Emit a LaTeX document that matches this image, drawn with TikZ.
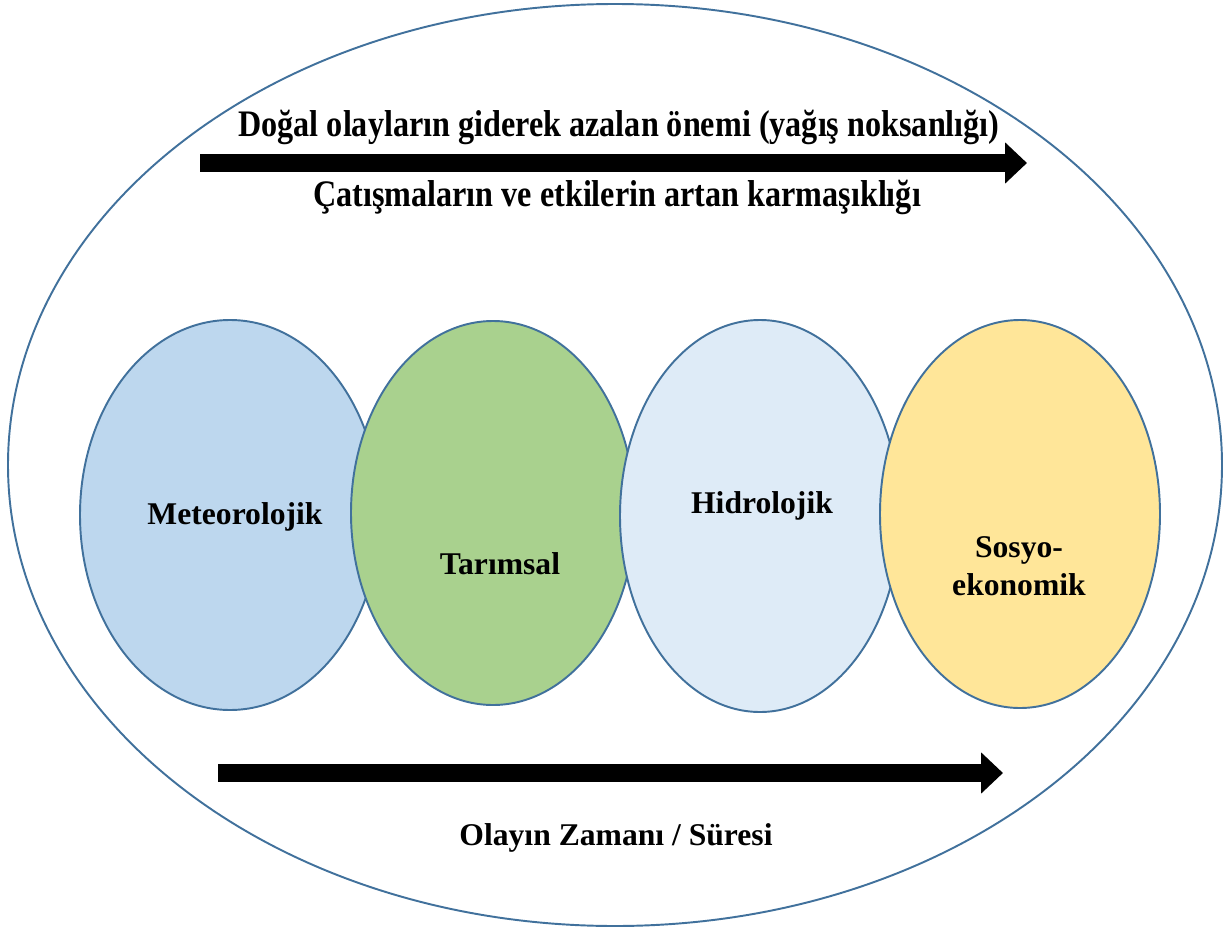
\documentclass[tikz,border=0pt]{standalone}
\usepackage{fontspec}
\setmainfont{Liberation Serif}
\usetikzlibrary{arrows.meta}
\definecolor{kenar}{HTML}{41719C}
\definecolor{metmavi}{HTML}{BDD7EE}
\definecolor{taryesil}{HTML}{A9D18E}
\definecolor{hidmavi}{HTML}{DEEBF7}
\definecolor{sossari}{HTML}{FFE699}
\tikzset{
  kuraklik/.style={draw=kenar, line width=1.1pt},
  etiket/.style={font=\fontsize{18}{21.5}\selectfont\bfseries, align=center},
  baslik/.style={font=\fontsize{21.3}{25}\selectfont\bfseries},
  kalinok/.style={line width=9.8pt, -{Triangle[length=0.44cm,width=0.8cm]}}
}
\begin{document}
\begin{tikzpicture}[x=0.02cm, y=-0.02cm]
	\useasboundingbox (0,0) rectangle (1225,930);
	\draw[draw=kenar, line width=1.1pt] (615,465) ellipse [x radius=607, y radius=461];
	% kuraklik turleri
	\draw[kuraklik, fill=metmavi] (230,515) ellipse [x radius=150, y radius=195];
	\draw[kuraklik, fill=taryesil] (493,513) ellipse [x radius=142, y radius=192];
	\draw[kuraklik, fill=hidmavi] (760,516) ellipse [x radius=140, y radius=196];
	\draw[kuraklik, fill=sossari] (1020,514) ellipse [x radius=140, y radius=194];
	\node[etiket] (met) at (235,517) {Meteorolojik};
	\node[etiket] (tar) at (500,564) {Tarımsal};
	\node[etiket] (hid) at (762,506) {Hidrolojik};
	\node[etiket] (sos) at (1019,566) {Sosyo-\\ekonomik};
	% ustteki ok ve yazilari
	\coordinate (ust1) at (200,163);
	\coordinate (ust2) at (1027,163);
	\draw[kalinok] (ust1) -- (ust2);
	\node[baslik] (doga) at (619,127) {\scalebox{0.86}[1]{Doğal olayların giderek azalan önemi (yağış noksanlığı)}};
	\node[baslik] (catis) at (617,197) {\scalebox{0.86}[1]{Çatışmaların ve etkilerin artan karmaşıklığı}};
	% alttaki ok
	\coordinate (alt1) at (218,773);
	\coordinate (alt2) at (1003,773);
	\draw[kalinok] (alt1) -- (alt2);
	\node[etiket] (zaman) at (616,838) {Olayın Zamanı / Süresi};
\end{tikzpicture}
\end{document}
